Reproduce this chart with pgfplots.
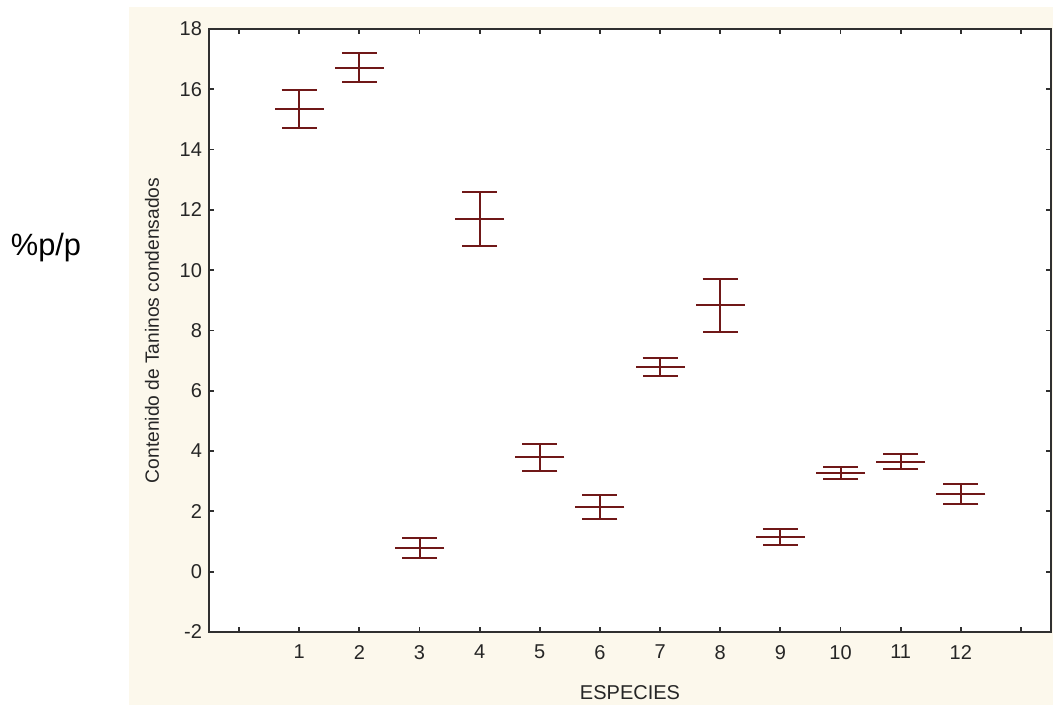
\documentclass[border=0pt]{standalone}
\usepackage{pgfplots}
\usepackage{fontspec}
\setmainfont{Liberation Sans}
\pgfplotsset{compat=1.18}
\definecolor{panelbg}{HTML}{FCF8EC}
\definecolor{barred}{HTML}{701818}
\definecolor{axisgray}{HTML}{303030}

% species, mean, half-width of the interval
\pgfplotstableread{
x  mean   err
1  15.34  0.62
2  16.72  0.47
3  0.78   0.34
4  11.70  0.90
5  3.80   0.45
6  2.15   0.40
7  6.80   0.30
8  8.83   0.89
9  1.15   0.26
10 3.27   0.19
11 3.65   0.26
12 2.58   0.33
}\taninos

\begin{document}
\begin{tikzpicture}
\useasboundingbox (-104.5pt,-36.5pt) rectangle (422pt,316pt);
\fill[panelbg] (-40pt,-36.5pt) rectangle (422pt,312.5pt);
\node[font=\fontsize{15.4}{18}\selectfont, anchor=base] at (-81.5pt,188pt) {\%p/p};
\begin{axis}[
    at={(0,0)}, anchor=south west,
    scale only axis,
    width=421pt, height=301.5pt,
    xmin=-0.5, xmax=13.5,
    ymin=-2, ymax=18,
    xtick={0,...,13},
    xticklabels={{},1,2,3,4,5,6,7,8,9,10,11,12,{}},
    ytick={-2,0,...,18},
    tick align=inside,
    major tick length=2.5pt,
    axis background/.style={fill=white},
    axis line style={axisgray, line width=0.9pt},
    every tick/.style={axisgray, line width=0.9pt},
    /pgf/number format/assume math mode=true,
    tick label style={font=\fontsize{10}{12}\selectfont, text=black!85},
    xticklabel style={yshift=-3pt},
    xlabel={ESPECIES},
    ylabel={Contenido de Taninos condensados},
    every axis x label/.style={at={(axis description cs:0.5,-0.1012)}, anchor=center,
        font=\fontsize{10}{12}\selectfont, text=black!85},
    every axis y label/.style={at={(axis description cs:-0.0677,0.5)}, anchor=center,
        rotate=90, font=\fontsize{9.6}{12}\selectfont, text=black!85},
]
\addplot[
    only marks, barred,
    mark=-, mark size=12.25pt,
    mark options={line width=1pt, barred},
    error bars/.cd,
        y dir=both, y explicit,
        error bar style={line width=1pt, barred},
        error mark options={rotate=90, mark size=8.75pt, line width=1pt, barred},
] table[x=x, y=mean, y error=err] {\taninos};
\end{axis}
\end{tikzpicture}
\end{document}
